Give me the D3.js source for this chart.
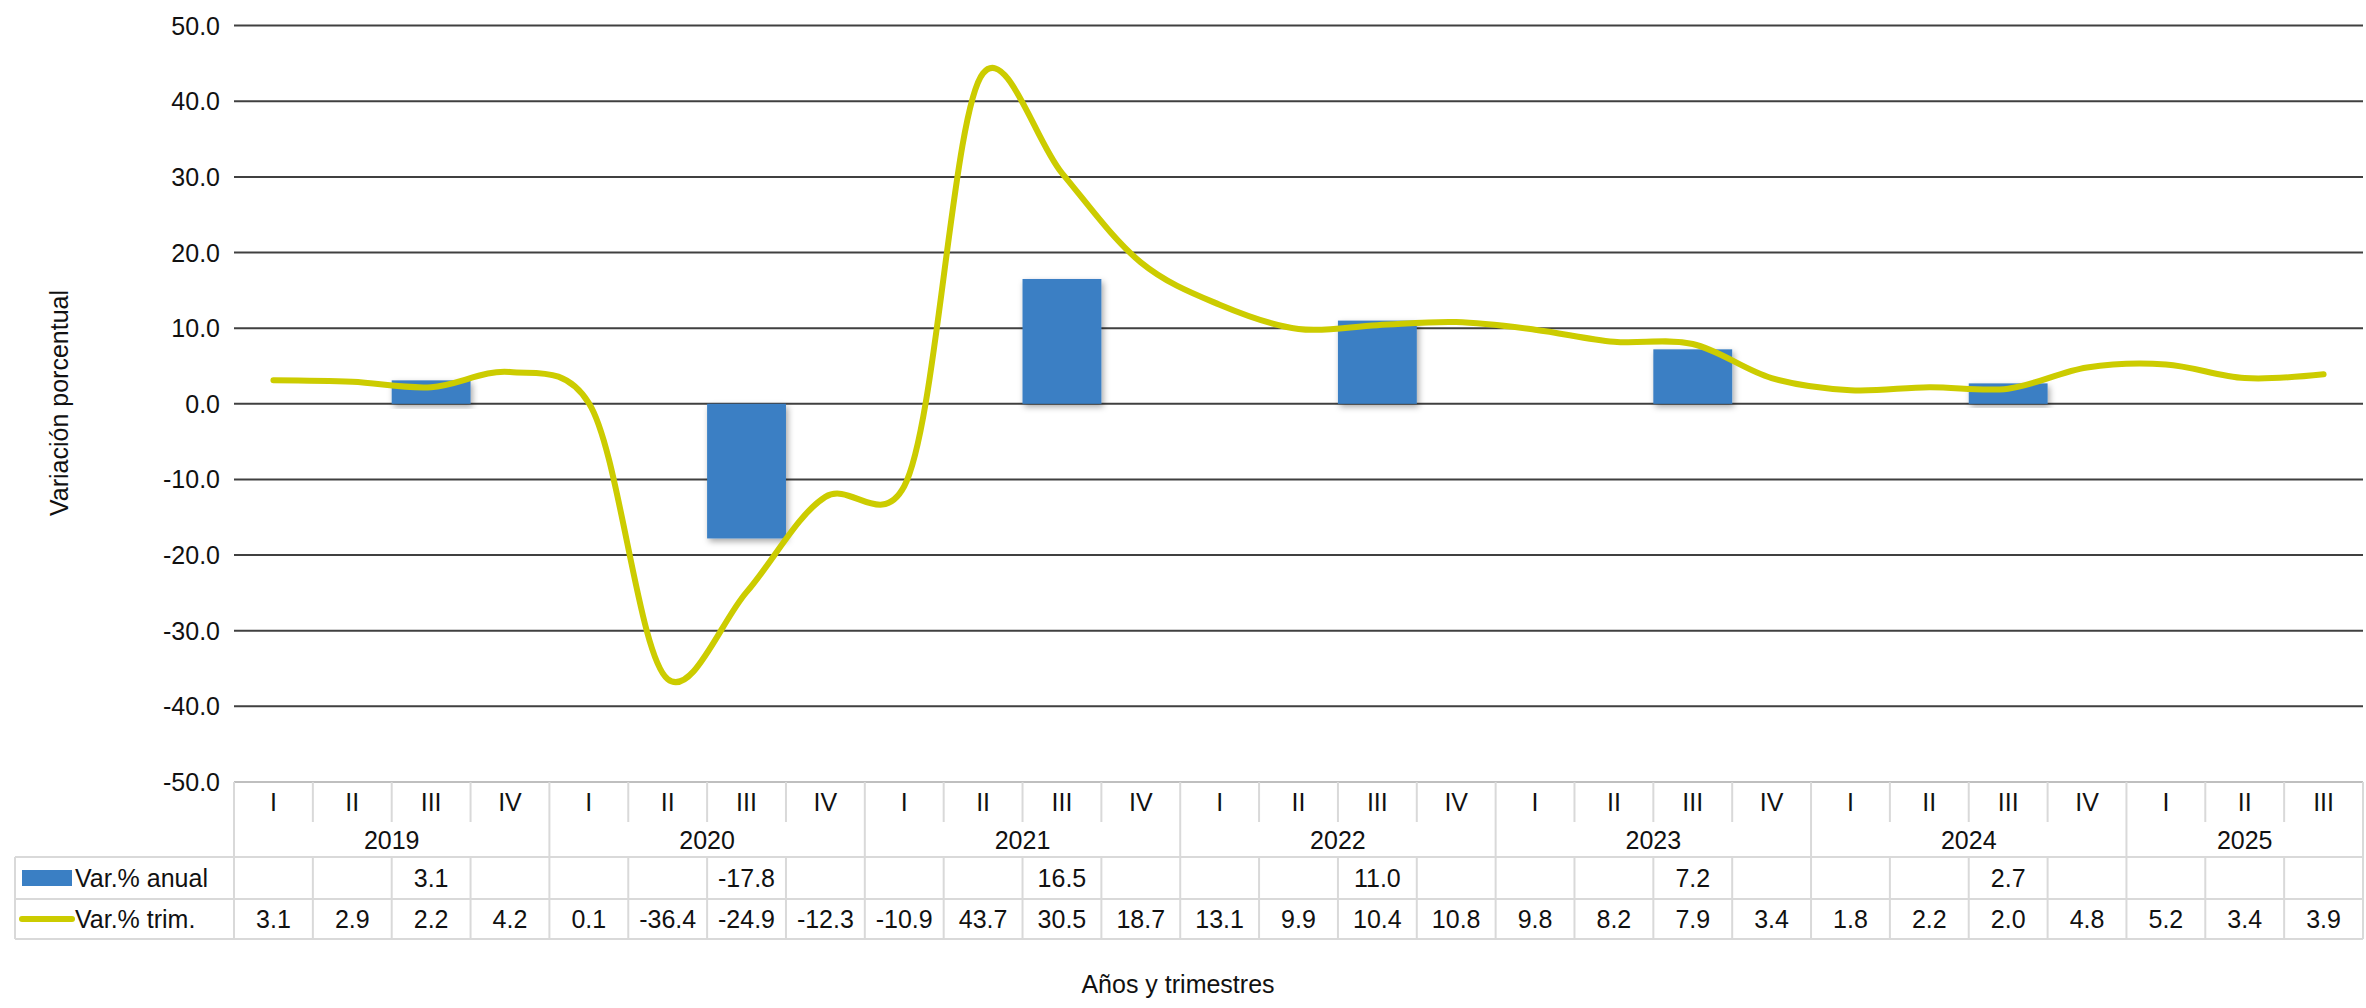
<!DOCTYPE html>
<html><head><meta charset="utf-8">
<script src="https://cdn.jsdelivr.net/npm/d3@7"></script>
<style>body{margin:0;background:#fff}text{font-family:"Liberation Sans",Arial,sans-serif;fill:#111}</style>
</head><body><svg id="c" width="2366" height="1008"></svg>
<script>
const years=["2019","2020","2021","2022","2023","2024","2025"];
const quarters=["I","II","III","IV"];
const trim=[3.1,2.9,2.2,4.2,0.1,-36.4,-24.9,-12.3,-10.9,43.7,30.5,18.7,13.1,9.9,10.4,10.8,9.8,8.2,7.9,3.4,1.8,2.2,2.0,4.8,5.2,3.4,3.9];
const anual=[null,null,3.1,null,null,null,-17.8,null,null,null,16.5,null,null,null,11.0,null,null,null,7.2,null,null,null,2.7,null,null,null,null];
const yTicks=[50,40,30,20,10,0,-10,-20,-30,-40,-50];

const svg=d3.select("#c");
const L=234,R=2363,T=25.6,B=782;
const n=trim.length;
const x=d3.scaleBand().domain(d3.range(n)).range([L,R]).padding(0);
const y=d3.scaleLinear().domain([-50,50]).range([B,T]);
const fs=25, grid="#d9d9d9";
const fmt=v=>d3.format(".1f")(v).replace("\u2212","-");

svg.append("g").selectAll("line").data(yTicks).join("line")
 .attr("x1",L).attr("x2",R).attr("y1",d=>y(d)).attr("y2",d=>y(d))
 .attr("stroke",d=>d===-50?"#bfbfbf":"#404040").attr("stroke-width",2);
svg.append("g").selectAll("text").data(yTicks).join("text")
 .attr("x",L-14).attr("y",d=>y(d)+9).attr("text-anchor","end").attr("font-size",fs)
 .text(fmt);

const defs=svg.append("defs");
const f=defs.append("filter").attr("id","sh").attr("x","-20%").attr("y","-20%").attr("width","140%").attr("height","140%");
f.append("feDropShadow").attr("dx",2).attr("dy",3).attr("stdDeviation",3).attr("flood-color","#000").attr("flood-opacity",0.35);

svg.append("g").selectAll("rect").data(anual.map((v,i)=>({v,i})).filter(d=>d.v!==null)).join("rect")
 .attr("x",d=>x(d.i)).attr("width",x.bandwidth())
 .attr("y",d=>y(Math.max(0,d.v))).attr("height",d=>Math.abs(y(d.v)-y(0)))
 .attr("fill","#3a7fc4").attr("filter","url(#sh)");

const line=d3.line().x((d,i)=>x(i)+x.bandwidth()/2).y(d=>y(d)).curve(d3.curveCatmullRom.alpha(0.2));
svg.append("path").datum(trim).attr("d",line).attr("fill","none")
 .attr("stroke","#cccc00").attr("stroke-width",6).attr("stroke-linecap","round");

const rQ1=B, rQ2=822, rY2=857, rA2=899, rT2=939, legL=15;
const tg=svg.append("g").attr("stroke",grid).attr("stroke-width",2);
d3.range(n+1).forEach(i=>{
  const xx=i<n?x(i):R;
  const isYear=i%4===0||i===n;
  tg.append("line").attr("x1",xx).attr("x2",xx).attr("y1",rQ1).attr("y2",isYear?rT2:rQ2);
  if(!isYear) tg.append("line").attr("x1",xx).attr("x2",xx).attr("y1",rY2).attr("y2",rT2);
});
[rY2,rA2,rT2].forEach(yy=>tg.append("line").attr("x1",legL).attr("x2",R).attr("y1",yy).attr("y2",yy));
tg.append("line").attr("x1",legL).attr("x2",legL).attr("y1",rY2).attr("y2",rT2);

svg.append("g").selectAll("text").data(trim).join("text")
 .attr("x",(d,i)=>x(i)+x.bandwidth()/2).attr("y",(rQ1+rQ2)/2+9).attr("text-anchor","middle").attr("font-size",fs)
 .text((d,i)=>quarters[i%4]);
svg.append("g").selectAll("text").data(years).join("text")
 .attr("x",(d,i)=>{const a=x(i*4),b=i*4+4<=n-1?x(i*4+4):R;return (a+b)/2;})
 .attr("y",(rQ2+rY2)/2+9).attr("text-anchor","middle").attr("font-size",fs).text(d=>d);
svg.append("g").selectAll("text").data(anual).join("text")
 .attr("x",(d,i)=>x(i)+x.bandwidth()/2).attr("y",(rY2+rA2)/2+9).attr("text-anchor","middle").attr("font-size",fs)
 .text(d=>d===null?"":fmt(d));
svg.append("g").selectAll("text").data(trim).join("text")
 .attr("x",(d,i)=>x(i)+x.bandwidth()/2).attr("y",(rA2+rT2)/2+9).attr("text-anchor","middle").attr("font-size",fs)
 .text(fmt);

svg.append("rect").attr("x",legL+7).attr("y",(rY2+rA2)/2-8).attr("width",50).attr("height",16).attr("fill","#3a7fc4");
svg.append("text").attr("x",legL+60).attr("y",(rY2+rA2)/2+9).attr("font-size",fs).text("Var.% anual");
svg.append("line").attr("x1",legL+7).attr("x2",legL+57).attr("y1",(rA2+rT2)/2).attr("y2",(rA2+rT2)/2).attr("stroke","#cccc00").attr("stroke-width",6).attr("stroke-linecap","round");
svg.append("text").attr("x",legL+60).attr("y",(rA2+rT2)/2+9).attr("font-size",fs).text("Var.% trim.");

svg.append("text").attr("x",1178).attr("y",993).attr("text-anchor","middle").attr("font-size",fs).text("Años y trimestres");
svg.append("text").attr("transform","translate(68,403) rotate(-90)").attr("text-anchor","middle").attr("font-size",fs).text("Variación porcentual");
</script></body></html>
